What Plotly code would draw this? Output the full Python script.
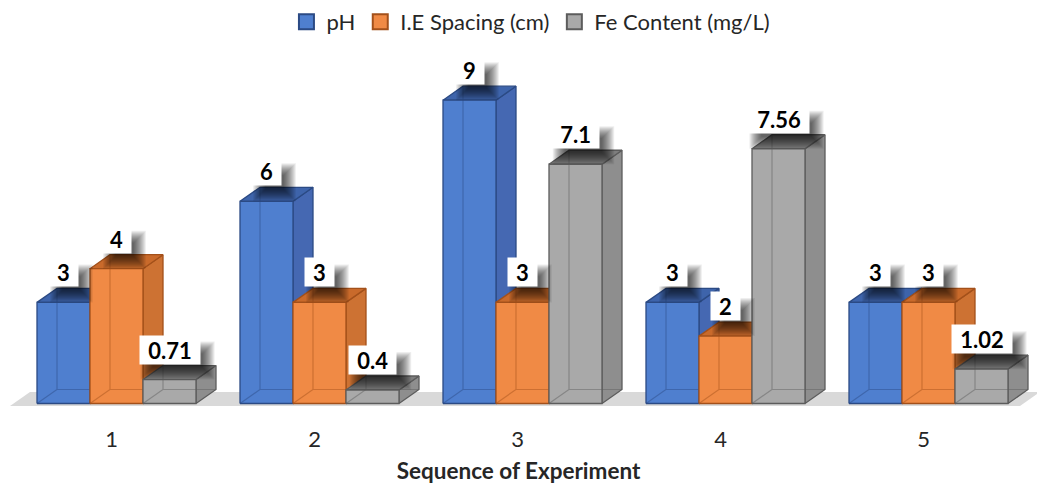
import plotly.graph_objects as go

# ---- data -------------------------------------------------------------
experiments = ["1", "2", "3", "4", "5"]
ph = [3, 6, 9, 3, 3]
ie_spacing = [4, 3, 3, 2, 3]
fe_content = [0.71, 0.4, 7.1, 7.56, 1.02]
series_names = ["pH", "I.E Spacing (cm)", "Fe Content (mg/L)"]

# ---- styling ----------------------------------------------------------
FONT = "Lato"
PALETTE = [
    # front, top, side, edge
    ("#4F7FCF", "#3E64AB", "#4568B2", "#2B4A84"),
    ("#F08A45", "#C96A2B", "#CD7233", "#A3501A"),
    ("#A9A9A9", "#7E7E7E", "#8E8E8E", "#5C5C5C"),
]

W, H = 1037, 484
PX_PER_GROUP = 203.0          # horizontal pixels per category step
PX_PER_UNIT = 33.7            # vertical pixels per value unit
PLOT_H = 410                  # plot area height (px)
ZERO_PX = 403.5               # pixel row of the value 0 inside the plot area
FIRST_CENTER_PX = 116.5       # pixel column of the first category centre

BW = 53 / PX_PER_GROUP        # bar width (x units)
DX = 20 / PX_PER_GROUP        # depth offset, horizontal
DY = 14 / PX_PER_UNIT         # depth offset, vertical

x_lo = 1 - FIRST_CENTER_PX / PX_PER_GROUP
x_range = [x_lo, x_lo + W / PX_PER_GROUP]
y_range = [-(PLOT_H - ZERO_PX) / PX_PER_UNIT, ZERO_PX / PX_PER_UNIT]

series = [ph, ie_spacing, fe_content]
centers = list(range(1, len(experiments) + 1))

fig = go.Figure()

# ---- floor ------------------------------------------------------------
fl_y = -2.5 / PX_PER_UNIT
fl_left = centers[0] - 1.5 * BW - 27 / PX_PER_GROUP
fl_right = centers[-1] + 1.5 * BW + 12 / PX_PER_GROUP
fig.add_trace(go.Scatter(
    x=[fl_left, fl_right, fl_right + DX, fl_left + DX, fl_left],
    y=[fl_y, fl_y, fl_y + DY, fl_y + DY, fl_y],
    fill="toself", fillcolor="#D9D9D9", mode="lines",
    line=dict(width=0), hoverinfo="skip", showlegend=False,
))


def faces(vals, offset):
    """Polygon outlines (None separated) of the front/top/side faces."""
    fx, fy, tx, ty, sx, sy, ix, iy = [], [], [], [], [], [], [], []
    for c, h in zip(centers, vals):
        xl = c + offset - BW / 2
        xr = xl + BW
        fx += [xl, xr, xr, xl, xl, None]
        fy += [0, 0, h, h, 0, None]
        tx += [xl, xr, xr + DX, xl + DX, xl, None]
        ty += [h, h, h + DY, h + DY, h, None]
        sx += [xr, xr + DX, xr + DX, xr, xr, None]
        sy += [0, DY, h + DY, h, 0, None]
        # hidden back edges, seen through the translucent body
        ix += [xl, xl + DX, xl + DX, None, xl + DX, xr + DX, None]
        iy += [0, DY, h + DY, None, DY, DY, None]
    return (fx, fy), (tx, ty), (sx, sy), (ix, iy)


for k, vals in enumerate(series):
    front_c, top_c, side_c, edge_c = PALETTE[k]
    offset = (k - 1) * BW
    front, top, side, inner = faces(vals, offset)
    for (xs, ys), col in ((side, side_c), (top, top_c), (front, front_c)):
        fig.add_trace(go.Scatter(
            x=xs, y=ys, fill="toself", fillcolor=col, mode="lines",
            line=dict(color=edge_c, width=1.3), hoverinfo="skip",
            showlegend=False,
        ))
    fig.add_trace(go.Scatter(
        x=inner[0], y=inner[1], mode="lines",
        line=dict(color=edge_c, width=1.2), opacity=0.45,
        hoverinfo="skip", showlegend=False,
    ))

# legend entries
for k, name in enumerate(series_names):
    front_c, _, _, edge_c = PALETTE[k]
    fig.add_trace(go.Scatter(
        x=[None], y=[None], mode="markers", name=name,
        marker=dict(symbol="square", size=15, color=front_c,
                    line=dict(color=edge_c, width=2)),
    ))

# ---- value labels with soft drop shadow --------------------------------
LABEL_SIZE = 22


def text_px(s):
    return sum(0.27 if ch == "." else 0.58 for ch in s) * LABEL_SIZE


BOX_LOW, BOX_HIGH = 15, 43     # label box, px above the bar's front top
SHADOW_OFF = 8
shapes, annotations = [], []
for k, vals in enumerate(series):
    offset = (k - 1) * BW
    for c, h in zip(centers, vals):
        txt = f"{h:g}"
        bw_px = text_px(txt) + 16
        xc = c + offset
        # stacked translucent rectangles give a blurred shadow edge
        for g in range(-5, 8):
            shapes.append(dict(
                type="rect", layer="above",
                xref="x", yref="y", xsizemode="pixel", ysizemode="pixel",
                xanchor=xc, yanchor=h,
                x0=-bw_px / 2 + SHADOW_OFF - g, x1=bw_px / 2 + SHADOW_OFF + g,
                y0=BOX_LOW - SHADOW_OFF - g, y1=BOX_HIGH - SHADOW_OFF - 4 + g,
                fillcolor="rgba(0,0,0,0.065)", line=dict(width=0),
            ))
        annotations.append(dict(
            x=xc, y=h, xref="x", yref="y", text=f"<b>{txt}</b>",
            showarrow=False, xanchor="center", yanchor="bottom",
            yshift=BOX_LOW, width=bw_px, height=BOX_HIGH - BOX_LOW,
            bgcolor="white", borderpad=0, valign="middle",
            font=dict(family=FONT, size=LABEL_SIZE, color="black"),
        ))

TICK_SHIFT = 5 / PX_PER_GROUP

fig.update_layout(
    width=W, height=H,
    margin=dict(l=0, r=0, t=0, b=H - PLOT_H),
    paper_bgcolor="white", plot_bgcolor="white",
    font=dict(family=FONT, size=22, color="#262626"),
    shapes=shapes, annotations=annotations,
    showlegend=True,
    legend=dict(
        orientation="h", x=0.512, xanchor="center",
        y=1 - 22 / PLOT_H, yanchor="middle",
        font=dict(family=FONT, size=22, color="#262626"),
        bgcolor="rgba(0,0,0,0)", itemclick=False,
    ),
    xaxis=dict(
        range=x_range, showgrid=False, zeroline=False, showline=False,
        tickmode="array", tickvals=[c - TICK_SHIFT for c in centers],
        ticktext=experiments, ticks="", ticklabelstandoff=14,
        tickfont=dict(family=FONT, size=22, color="#262626"),
        title=dict(text="<b>Sequence of Experiment</b>", standoff=17,
                   font=dict(family=FONT, size=22.5, color="#262626")),
        fixedrange=True,
    ),
    yaxis=dict(range=y_range, visible=False, fixedrange=True),
)

fig.write_html("out.html")
